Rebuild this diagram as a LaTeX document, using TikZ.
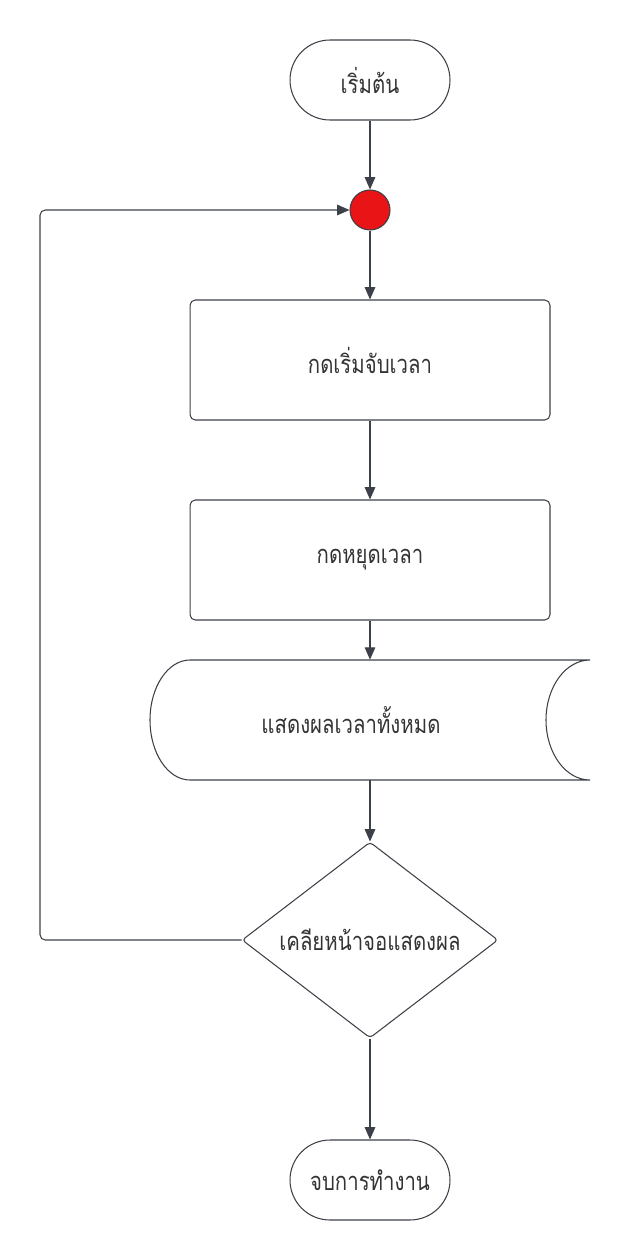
\documentclass[tikz,border=0pt]{standalone}
\usepackage{fontspec}
\newfontfamily\thaifont[Script=Thai,FakeStretch=0.8]{Loma}
\usetikzlibrary{shapes.geometric}
\usetikzlibrary{arrows.meta}
\definecolor{linegray}{HTML}{3C4048}
\definecolor{txtgray}{HTML}{333333}
\definecolor{joinred}{HTML}{E81416}

\begin{document}
\begin{tikzpicture}[x=0.02cm,y=-0.02cm,
        every node/.style={font=\thaifont\fontsize{14.5}{16}\selectfont,text=txtgray},
        line/.style={draw=linegray,line width=0.6pt},
        arr/.style={line,-{Triangle[length=7pt,width=6pt]}},
        term/.style={line,rounded corners=0.8cm,minimum width=3.2cm,minimum height=1.6cm},
        proc/.style={line,rounded corners=3pt,minimum width=7.2cm,minimum height=2.4cm},
        dec/.style={line,diamond,aspect=1.3,inner sep=0pt,rounded corners=2pt,
            minimum width=5.12cm,minimum height=3.92cm}]
                    \useasboundingbox (0,0) rectangle (630,1260);
                    \node[term] (start) at (370,80) {เริ่มต้น};
                    \node[line,circle,fill=joinred,minimum size=0.8cm,inner sep=0pt] (join) at (370,210) {};
                    \node[proc] (begin) at (370,360) {กดเริ่มจับเวลา};
                    \node[proc] (stop) at (370,560) {กดหยุดเวลา};
                    \node[minimum width=8.8cm,minimum height=2.4cm,inner sep=0pt] (show) at (370,720) {};
                    \node (showlbl) at (351,720) {แสดงผลเวลาทั้งหมด};
                    \node[dec] (clear) at (370,940) {เคลียหน้าจอแสดงผล};
                    \node[term] (end) at (370,1180) {จบการทำงาน};
                    \coordinate (loopx) at (40,0);
                    % stored data shape
                    \draw[line] (190,660) -- (590,660) arc[start angle=270,end angle=90,x radius=44,y radius=60]
                        -- (190,780) arc[start angle=90,end angle=270,x radius=40,y radius=60];
                    \draw[arr] (start) -- (join);
                    \draw[arr] (join) -- (begin);
                    \draw[arr] (begin) -- (stop);
                    \draw[arr] (stop) -- (show);
                    \draw[arr] (show) -- (clear);
                    \draw[arr] (clear) -- (end);
                    \draw[arr,rounded corners=3pt] (clear.west) -- (clear.west -| loopx)
                        -- (join.west -| loopx) -- (join.west);
                \end{tikzpicture}
\end{document}
